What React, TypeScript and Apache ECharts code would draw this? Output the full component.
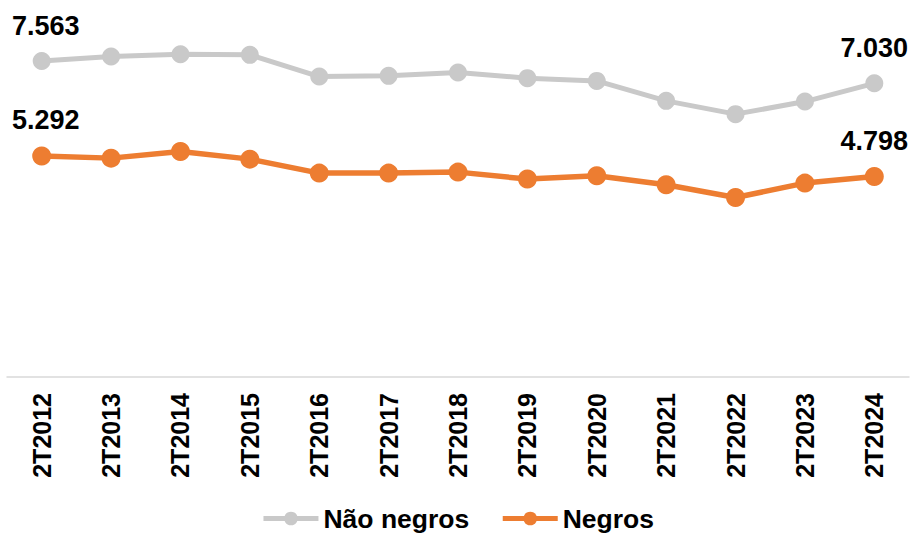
import React, { useEffect, useRef } from "react";
import * as echarts from "echarts";

const categories = [
  "2T2012", "2T2013", "2T2014", "2T2015", "2T2016", "2T2017", "2T2018",
  "2T2019", "2T2020", "2T2021", "2T2022", "2T2023", "2T2024",
];
const naoNegros = [7563, 7670, 7727, 7711, 7191, 7208, 7287, 7153, 7088, 6610, 6292, 6593, 7030];
const negros = [5292, 5239, 5397, 5215, 4880, 4880, 4904, 4737, 4816, 4600, 4297, 4641, 4798];
const seriesNames = ["Não negros", "Negros"];

const FONT = "'Liberation Sans', Arial, Helvetica, sans-serif";

function fmt(v: number): string {
  const s = String(Math.round(v));
  return s.replace(/\B(?=(\d{3})+(?!\d))/g, ".");
}

function withEndLabels(values: number[]) {
  const last = values.length - 1;
  return values.map((v, i) => {
    if (i === 0) return { value: v, label: { show: true, offset: [4, 0] } };
    if (i === last) return { value: v, label: { show: true } };
    return { value: v };
  });
}

export default function App() {
  const ref = useRef<HTMLDivElement>(null);
  useEffect(() => {
    if (!ref.current) return;
    const chart = echarts.init(ref.current, undefined, { renderer: "svg" });
    const labelStyle = {
      position: "top",
      distance: 13,
      fontSize: 27,
      fontWeight: "bold",
      fontFamily: FONT,
      color: "#000000",
      formatter: (p: any) => fmt(p.value),
    };
    chart.setOption({
      animation: false,
      backgroundColor: "#ffffff",
      grid: { left: 7, right: 6, top: 1, bottom: 156, containLabel: false },
      legend: {
        data: seriesNames,
        left: "center",
        top: 500,
        itemWidth: 55,
        itemHeight: 17,
        itemGap: 31,
        lineStyle: { width: 5 },
        textStyle: { fontSize: 26.5, fontWeight: "bold", fontFamily: FONT, color: "#000000" },
      },
      xAxis: {
        type: "category",
        data: categories,
        boundaryGap: true,
        axisLine: { show: true, lineStyle: { color: "#d9d9d9", width: 1.5 } },
        axisTick: { show: false },
        axisLabel: {
          rotate: 90,
          margin: 16,
          fontSize: 25,
          fontWeight: "bold",
          fontFamily: FONT,
          color: "#000000",
          interval: 0,
        },
        splitLine: { show: false },
      },
      yAxis: {
        type: "value",
        min: 0,
        max: 9000,
        show: false,
        splitLine: { show: false },
      },
      series: [
        {
          name: seriesNames[0],
          type: "line",
          data: withEndLabels(naoNegros),
          symbol: "circle",
          symbolSize: 18,
          color: "#c9c9c9",
          lineStyle: { color: "#c9c9c9", width: 5 },
          itemStyle: { color: "#c9c9c9" },
          label: { ...labelStyle, show: false },
        },
        {
          name: seriesNames[1],
          type: "line",
          data: withEndLabels(negros),
          symbol: "circle",
          symbolSize: 19,
          color: "#ed7d31",
          lineStyle: { color: "#ed7d31", width: 5.5 },
          itemStyle: { color: "#ed7d31" },
          label: { ...labelStyle, show: false },
        },
      ],
    });
    return () => chart.dispose();
  }, []);
  return (
    <div
      ref={ref}
      style={{ position: "absolute", left: 0, top: 0, width: 915, height: 533 }}
    />
  );
}
